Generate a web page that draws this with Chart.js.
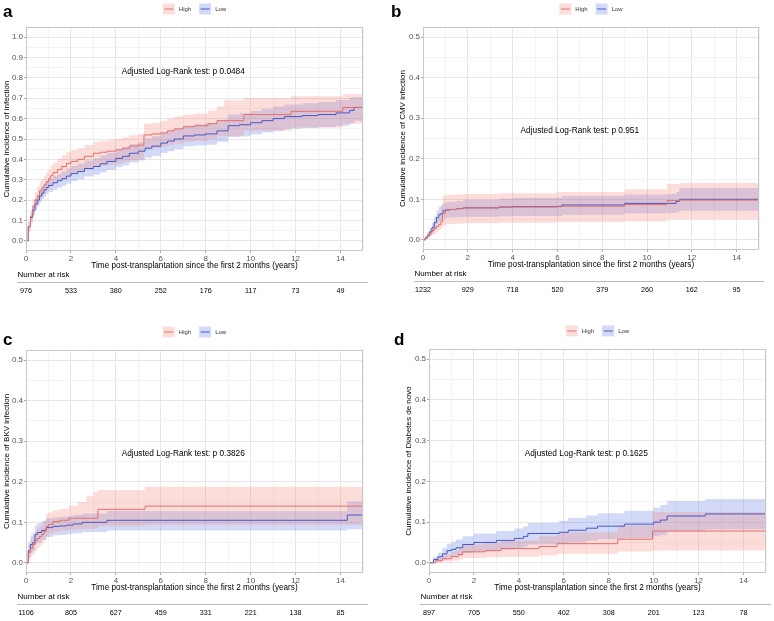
<!DOCTYPE html>
<html lang="en">
<head>
<meta charset="UTF-8">
<title>Cumulative incidence by group</title>
<style>
  body { margin: 0; background: #fff; }
  #wrap { position: relative; width: 774px; height: 621px; }
  .panel { position: absolute; }
</style>
</head>
<body>
<div id="wrap">
  <div class="panel" style="left:0;top:0"><canvas id="chart-a" width="387" height="310"></canvas></div>
  <div class="panel" style="left:387px;top:0"><canvas id="chart-b" width="387" height="310"></canvas></div>
  <div class="panel" style="left:0;top:310px"><canvas id="chart-c" width="387" height="311"></canvas></div>
  <div class="panel" style="left:387px;top:310px"><canvas id="chart-d" width="387" height="311"></canvas></div>
</div>

<script src="https://cdn.jsdelivr.net/npm/chart.js"></script>
<script>
// ---- data ----
const xMajor = [0, 2, 4, 6, 8, 10, 12, 14];
const xMinor = [1, 3, 5, 7, 9, 11, 13, 15];
const riskTimes = [0, 2, 4, 6, 8, 10, 12, 14];
const bigYMajor = [0, 0.1, 0.2, 0.3, 0.4, 0.5, 0.6, 0.7, 0.8, 0.9, 1.0];
const bigYMinor = [0.05, 0.15, 0.25, 0.35, 0.45, 0.55, 0.65, 0.75, 0.85, 0.95];
const smallYMajor = [0, 0.1, 0.2, 0.3, 0.4, 0.5];
const smallYMinor = [0.05, 0.15, 0.25, 0.35, 0.45];

// a - infection
const aHighTime  = [0, 0.1, 0.2, 0.3, 0.4, 0.5, 0.6, 0.7, 0.8, 0.9, 1.0, 1.1, 1.2, 1.4, 1.6, 1.8, 2.0, 2.3, 2.6, 3.0, 3.3, 3.6, 4.0, 4.3, 4.6, 5.0, 5.25, 5.6, 6.0, 6.3, 6.6, 7.0, 7.5, 8.1, 8.5, 8.8, 9.7, 11.8, 14.1, 15];
const aHighEst   = [0, 0.07, 0.12, 0.17, 0.20, 0.22, 0.245, 0.26, 0.275, 0.29, 0.305, 0.32, 0.335, 0.35, 0.365, 0.38, 0.39, 0.40, 0.415, 0.43, 0.435, 0.44, 0.447, 0.455, 0.465, 0.47, 0.52, 0.525, 0.53, 0.54, 0.55, 0.56, 0.565, 0.575, 0.59, 0.59, 0.62, 0.636, 0.655, 0.655];
const aHighLower = [0, 0.045, 0.09, 0.13, 0.16, 0.18, 0.20, 0.215, 0.23, 0.245, 0.258, 0.27, 0.283, 0.297, 0.31, 0.322, 0.33, 0.34, 0.352, 0.366, 0.37, 0.374, 0.38, 0.387, 0.396, 0.40, 0.45, 0.455, 0.46, 0.469, 0.478, 0.487, 0.491, 0.50, 0.514, 0.514, 0.54, 0.556, 0.575, 0.575];
const aHighUpper = [0, 0.095, 0.15, 0.205, 0.24, 0.265, 0.29, 0.305, 0.32, 0.337, 0.352, 0.37, 0.385, 0.403, 0.42, 0.435, 0.445, 0.455, 0.47, 0.485, 0.49, 0.495, 0.50, 0.508, 0.518, 0.525, 0.575, 0.58, 0.59, 0.60, 0.61, 0.62, 0.625, 0.64, 0.66, 0.69, 0.70, 0.71, 0.72, 0.72];
const aLowTime  = [0, 0.1, 0.2, 0.3, 0.4, 0.5, 0.6, 0.7, 0.8, 0.9, 1.0, 1.2, 1.4, 1.6, 1.8, 2.0, 2.3, 2.6, 3.0, 3.3, 3.6, 4.0, 4.3, 4.6, 5.0, 5.3, 5.6, 6.0, 6.3, 6.6, 7.0, 7.5, 8.0, 8.5, 9.0, 9.5, 10.0, 10.5, 11.0, 11.5, 12.3, 13.0, 13.8, 14.4, 14.6, 15];
const aLowEst   = [0, 0.07, 0.115, 0.15, 0.18, 0.20, 0.22, 0.235, 0.25, 0.262, 0.272, 0.285, 0.295, 0.305, 0.318, 0.33, 0.34, 0.355, 0.365, 0.378, 0.39, 0.405, 0.415, 0.43, 0.44, 0.455, 0.465, 0.48, 0.49, 0.50, 0.515, 0.52, 0.525, 0.54, 0.565, 0.57, 0.58, 0.59, 0.60, 0.61, 0.615, 0.62, 0.628, 0.64, 0.655, 0.655];
const aLowLower = [0, 0.05, 0.09, 0.125, 0.152, 0.172, 0.19, 0.205, 0.218, 0.23, 0.24, 0.252, 0.262, 0.27, 0.282, 0.293, 0.302, 0.316, 0.325, 0.337, 0.348, 0.362, 0.371, 0.385, 0.395, 0.408, 0.417, 0.431, 0.44, 0.45, 0.464, 0.468, 0.472, 0.486, 0.51, 0.514, 0.523, 0.532, 0.541, 0.55, 0.554, 0.558, 0.565, 0.577, 0.59, 0.59];
const aLowUpper = [0, 0.09, 0.14, 0.175, 0.208, 0.228, 0.25, 0.265, 0.282, 0.294, 0.304, 0.318, 0.328, 0.34, 0.354, 0.367, 0.378, 0.394, 0.405, 0.419, 0.432, 0.448, 0.459, 0.475, 0.485, 0.502, 0.513, 0.529, 0.54, 0.55, 0.566, 0.572, 0.578, 0.594, 0.62, 0.626, 0.637, 0.648, 0.659, 0.67, 0.676, 0.682, 0.691, 0.703, 0.705, 0.705];
const aRisk = [976, 533, 380, 252, 176, 117, 73, 49];

// b - CMV infection
const bHighTime  = [0, 0.1, 0.2, 0.3, 0.4, 0.5, 0.6, 0.7, 0.8, 0.87, 1.0, 1.2, 1.5, 1.8, 3.4, 6.0, 9.0, 10.9, 11.5, 15];
const bHighEst   = [0, 0.005, 0.01, 0.017, 0.023, 0.028, 0.033, 0.038, 0.045, 0.066, 0.073, 0.075, 0.077, 0.079, 0.081, 0.083, 0.087, 0.097, 0.098, 0.098];
const bHighLower = [0, 0.002, 0.004, 0.008, 0.012, 0.016, 0.02, 0.025, 0.03, 0.035, 0.038, 0.039, 0.04, 0.041, 0.042, 0.044, 0.046, 0.05, 0.05, 0.05];
const bHighUpper = [0, 0.01, 0.018, 0.028, 0.036, 0.045, 0.055, 0.065, 0.085, 0.108, 0.11, 0.111, 0.112, 0.113, 0.115, 0.118, 0.125, 0.138, 0.14, 0.14];
const bLowTime  = [0, 0.1, 0.2, 0.3, 0.4, 0.5, 0.6, 0.7, 0.8, 0.9, 1.0, 1.2, 1.5, 1.8, 3.4, 4.0, 6.2, 9.0, 10.9, 11.3, 11.45, 15];
const bLowEst   = [0, 0.005, 0.012, 0.02, 0.03, 0.043, 0.055, 0.062, 0.065, 0.072, 0.074, 0.075, 0.077, 0.079, 0.081, 0.082, 0.086, 0.09, 0.09, 0.095, 0.1, 0.1];
const bLowLower = [0, 0.002, 0.006, 0.012, 0.02, 0.03, 0.04, 0.046, 0.049, 0.052, 0.054, 0.055, 0.056, 0.057, 0.058, 0.059, 0.062, 0.065, 0.066, 0.068, 0.072, 0.072];
const bLowUpper = [0, 0.01, 0.02, 0.03, 0.042, 0.058, 0.072, 0.081, 0.085, 0.09, 0.093, 0.094, 0.096, 0.099, 0.102, 0.104, 0.108, 0.112, 0.113, 0.118, 0.128, 0.128];
const bRisk = [1232, 929, 718, 520, 379, 260, 162, 95];

// c - BKV infection
const cHighTime  = [0, 0.1, 0.2, 0.3, 0.4, 0.5, 0.6, 0.7, 0.8, 0.9, 1.0, 1.2, 1.5, 1.9, 2.3, 2.7, 3.0, 3.2, 5.3, 15];
const cHighEst   = [0, 0.025, 0.035, 0.045, 0.055, 0.06, 0.065, 0.07, 0.078, 0.09, 0.095, 0.102, 0.105, 0.11, 0.11, 0.11, 0.11, 0.132, 0.14, 0.14];
const cHighLower = [0, 0.008, 0.015, 0.022, 0.03, 0.036, 0.042, 0.048, 0.055, 0.066, 0.072, 0.076, 0.079, 0.082, 0.083, 0.084, 0.085, 0.09, 0.094, 0.097];
const cHighUpper = [0, 0.045, 0.058, 0.068, 0.078, 0.085, 0.09, 0.095, 0.105, 0.12, 0.125, 0.13, 0.133, 0.14, 0.15, 0.165, 0.175, 0.18, 0.188, 0.19];
const cLowTime  = [0, 0.1, 0.2, 0.3, 0.4, 0.5, 0.7, 0.9, 1.2, 1.5, 1.8, 2.1, 2.5, 3.6, 14.3, 15];
const cLowEst   = [0, 0.03, 0.045, 0.05, 0.07, 0.075, 0.08, 0.087, 0.09, 0.091, 0.093, 0.096, 0.1, 0.105, 0.118, 0.118];
const cLowLower = [0, 0.012, 0.025, 0.03, 0.045, 0.05, 0.057, 0.064, 0.068, 0.069, 0.071, 0.073, 0.076, 0.08, 0.083, 0.083];
const cLowUpper = [0, 0.05, 0.068, 0.075, 0.092, 0.098, 0.103, 0.11, 0.112, 0.113, 0.115, 0.118, 0.122, 0.128, 0.152, 0.155];
const cRisk = [1106, 805, 627, 459, 331, 221, 138, 85];

// d - diabetes de novo
const dHighTime  = [0, 0.3, 0.6, 1.0, 1.3, 1.5, 2.5, 3.2, 4.9, 5.7, 8.4, 9.95, 15];
const dHighEst   = [0, 0.005, 0.01, 0.015, 0.02, 0.027, 0.03, 0.035, 0.04, 0.047, 0.058, 0.078, 0.078];
const dHighLower = [0, 0.001, 0.003, 0.005, 0.008, 0.012, 0.013, 0.015, 0.018, 0.022, 0.028, 0.03, 0.025];
const dHighUpper = [0, 0.012, 0.02, 0.028, 0.035, 0.045, 0.05, 0.055, 0.065, 0.075, 0.092, 0.125, 0.125];
const dLowTime  = [0, 0.2, 0.4, 0.6, 0.8, 1.0, 1.2, 1.5, 2.0, 3.0, 3.8, 4.2, 4.4, 5.8, 6.2, 7.0, 7.5, 8.7, 10.0, 10.3, 10.6, 12.3, 15];
const dLowEst   = [0, 0.008, 0.015, 0.022, 0.03, 0.033, 0.037, 0.045, 0.05, 0.055, 0.06, 0.065, 0.072, 0.075, 0.08, 0.085, 0.09, 0.095, 0.1, 0.105, 0.115, 0.12, 0.12];
const dLowLower = [0, 0.002, 0.005, 0.008, 0.013, 0.015, 0.018, 0.024, 0.028, 0.032, 0.036, 0.04, 0.045, 0.047, 0.05, 0.054, 0.058, 0.061, 0.065, 0.069, 0.077, 0.082, 0.085];
const dLowUpper = [0, 0.015, 0.025, 0.036, 0.047, 0.052, 0.057, 0.065, 0.072, 0.078, 0.084, 0.09, 0.098, 0.103, 0.11, 0.116, 0.122, 0.128, 0.135, 0.142, 0.152, 0.157, 0.157];
const dRisk = [897, 705, 550, 402, 308, 201, 123, 78];

// ---- style ----
const FONT = "'Liberation Sans', Arial, sans-serif";
const RED = '#E0716B';
const BLUE = '#4558C6';
const RED_BAND = 'rgba(248,118,109,0.25)';
const BLUE_BAND = 'rgba(90,120,230,0.27)';
Chart.defaults.font.family = FONT;

const pts = (t, v) => t.map((x, i) => ({ x: x, y: v[i] }));
const near = (list, v) => list.some(m => Math.abs(m - v) < 1e-9);

function extras(p) {
  return {
    id: 'extras',
    afterDraw(chart) {
      const ctx = chart.ctx, area = chart.chartArea;
      const xs = chart.scales.x, ys = chart.scales.y;
      ctx.save();
      // panel border
      ctx.strokeStyle = '#C8C8C8';
      ctx.lineWidth = 1;
      ctx.strokeRect(area.left + 0.5, area.top + 0.5, area.right - area.left - 1, area.bottom - area.top - 1);

      // panel letter
      ctx.fillStyle = '#000';
      ctx.font = 'bold 17px ' + FONT;
      ctx.textAlign = 'left';
      ctx.textBaseline = 'alphabetic';
      ctx.fillText(p.letter, p.letterX, p.letterY);

      // legend
      ctx.font = '6px ' + FONT;
      const items = [{ label: 'High', band: RED_BAND, line: RED }, { label: 'Low', band: BLUE_BAND, line: BLUE }];
      const w = items.map(it => 12 + 4 + ctx.measureText(it.label).width);
      let lx = (area.left + area.right) / 2 - (w[0] + w[1] + 8) / 2;
      const cy = area.top - 18;
      items.forEach((it, i) => {
        ctx.fillStyle = it.band;
        ctx.fillRect(lx, cy - 5.5, 12, 11);
        ctx.strokeStyle = it.line;
        ctx.beginPath();
        ctx.moveTo(lx + 1.5, cy);
        ctx.lineTo(lx + 10.5, cy);
        ctx.stroke();
        ctx.fillStyle = '#333';
        ctx.textBaseline = 'middle';
        ctx.fillText(it.label, lx + 16, cy);
        lx += w[i] + 8;
      });

      // log-rank annotation
      ctx.fillStyle = '#000';
      ctx.font = '8.3px ' + FONT;
      ctx.textAlign = 'center';
      ctx.fillText(p.note, xs.getPixelForValue(7), ys.getPixelForValue(p.noteY));

      // number at risk table
      ctx.textAlign = 'left';
      ctx.font = '8px ' + FONT;
      ctx.fillText('Number at risk', area.left - 8.5, area.bottom + 24);
      ctx.strokeStyle = '#BBBBBB';
      ctx.beginPath();
      ctx.moveTo(area.left - 9, area.bottom + 31.5);
      ctx.lineTo(area.right + 5, area.bottom + 31.5);
      ctx.stroke();
      ctx.textAlign = 'center';
      ctx.font = '7.2px ' + FONT;
      riskTimes.forEach((t, i) => {
        ctx.fillText(String(p.risk[i]), xs.getPixelForValue(t), area.bottom + 40.5);
      });
      ctx.restore();
    }
  };
}

function makePanel(id, p) {
  const yTicks = p.yMajor.concat(p.yMinor).sort((a, b) => a - b);
  const xTicks = xMajor.concat(xMinor).sort((a, b) => a - b);
  const band = (t, v, color, fill) => ({
    data: pts(t, v), borderColor: 'transparent', borderWidth: 0,
    backgroundColor: color, fill: fill, stepped: true, order: 2
  });
  new Chart(document.getElementById(id), {
    type: 'line',
    data: {
      datasets: [
        band(p.high[0], p.high[2], RED_BAND, false),
        band(p.high[0], p.high[3], RED_BAND, '-1'),
        band(p.low[0], p.low[2], BLUE_BAND, false),
        band(p.low[0], p.low[3], BLUE_BAND, '-1'),
        { data: pts(p.high[0], p.high[1]), borderColor: RED, borderWidth: 1, fill: false, stepped: true, order: 0 },
        { data: pts(p.low[0], p.low[1]), borderColor: BLUE, borderWidth: 1, fill: false, stepped: true, order: 0 }
      ]
    },
    options: {
      responsive: false,
      animation: false,
      layout: { padding: p.pad },
      elements: { point: { radius: 0 } },
      plugins: { legend: { display: false }, tooltip: { enabled: false } },
      scales: {
        x: {
          type: 'linear', min: 0, max: 15,
          afterBuildTicks: s => { s.ticks = xTicks.map(v => ({ value: v })); },
          afterFit: s => { s.height = 20; },
          ticks: {
            autoSkip: false, maxRotation: 0, padding: 1,
            font: { size: 8 }, color: '#555',
            callback: v => near(xMajor, v) ? String(v) : ''
          },
          grid: {
            color: c => near(xMajor, c.tick.value) ? '#E6E6E6' : '#F3F3F3',
            tickColor: c => near(xMajor, c.tick.value) ? '#AAAAAA' : 'transparent',
            tickLength: 2
          },
          border: { display: false },
          title: {
            display: true, text: 'Time post-transplantation since the first 2 months (years)',
            font: { size: 8.2 }, color: '#000', padding: 0
          }
        },
        y: {
          type: 'linear', min: p.yMin, max: p.yMax,
          afterBuildTicks: s => { s.ticks = yTicks.map(v => ({ value: v })); },
          afterFit: s => { s.width = p.yWidth; },
          ticks: {
            autoSkip: false, padding: 1,
            font: { size: 8 }, color: '#555',
            callback: v => near(p.yMajor, v) ? v.toFixed(1) : ''
          },
          grid: {
            color: c => near(p.yMajor, c.tick.value) ? '#E6E6E6' : '#F3F3F3',
            tickColor: c => near(p.yMajor, c.tick.value) ? '#AAAAAA' : 'transparent',
            tickLength: 2
          },
          border: { display: false },
          title: { display: true, text: p.yTitle, font: { size: 8 }, color: '#000', padding: 0 }
        }
      }
    },
    plugins: [extras(p)]
  });
}

makePanel('chart-a', {
  letter: 'a', letterX: 3, letterY: 17,
  high: [aHighTime, aHighEst, aHighLower, aHighUpper],
  low: [aLowTime, aLowEst, aLowLower, aLowUpper],
  risk: aRisk, note: 'Adjusted Log-Rank test: p 0.0484', noteY: 0.83,
  yMajor: bigYMajor, yMinor: bigYMinor, yMin: -0.05, yMax: 1.05,
  yTitle: 'Cumulative incidence of infection',
  yWidth: 24, pad: { left: 2, top: 27, right: 24, bottom: 39 }
});
makePanel('chart-b', {
  letter: 'b', letterX: 4, letterY: 17,
  high: [bHighTime, bHighEst, bHighLower, bHighUpper],
  low: [bLowTime, bLowEst, bLowLower, bLowUpper],
  risk: bRisk, note: 'Adjusted Log-Rank test: p 0.951', noteY: 0.27,
  yMajor: smallYMajor, yMinor: smallYMinor, yMin: -0.025, yMax: 0.525,
  yTitle: 'Cumulative incidence of CMV infection',
  yWidth: 25, pad: { left: 11, top: 27, right: 15, bottom: 40 }
});
makePanel('chart-c', {
  letter: 'c', letterX: 3, letterY: 35,
  high: [cHighTime, cHighEst, cHighLower, cHighUpper],
  low: [cLowTime, cLowEst, cLowLower, cLowUpper],
  risk: cRisk, note: 'Adjusted Log-Rank test: p 0.3826', noteY: 0.268,
  yMajor: smallYMajor, yMinor: smallYMinor, yMin: -0.025, yMax: 0.525,
  yTitle: 'Cumulative incidence of BKV infection',
  yWidth: 24, pad: { left: 2, top: 40, right: 24, bottom: 28 }
});
makePanel('chart-d', {
  letter: 'd', letterX: 7, letterY: 35,
  high: [dHighTime, dHighEst, dHighLower, dHighUpper],
  low: [dLowTime, dLowEst, dLowLower, dLowUpper],
  risk: dRisk, note: 'Adjusted Log-Rank test: p 0.1625', noteY: 0.268,
  yMajor: smallYMajor, yMinor: smallYMinor, yMin: -0.025, yMax: 0.525,
  yTitle: 'Cumulative incidence of Diabetes de novo',
  yWidth: 25, pad: { left: 17, top: 39, right: 8, bottom: 28 }
});
</script>
</body>
</html>
